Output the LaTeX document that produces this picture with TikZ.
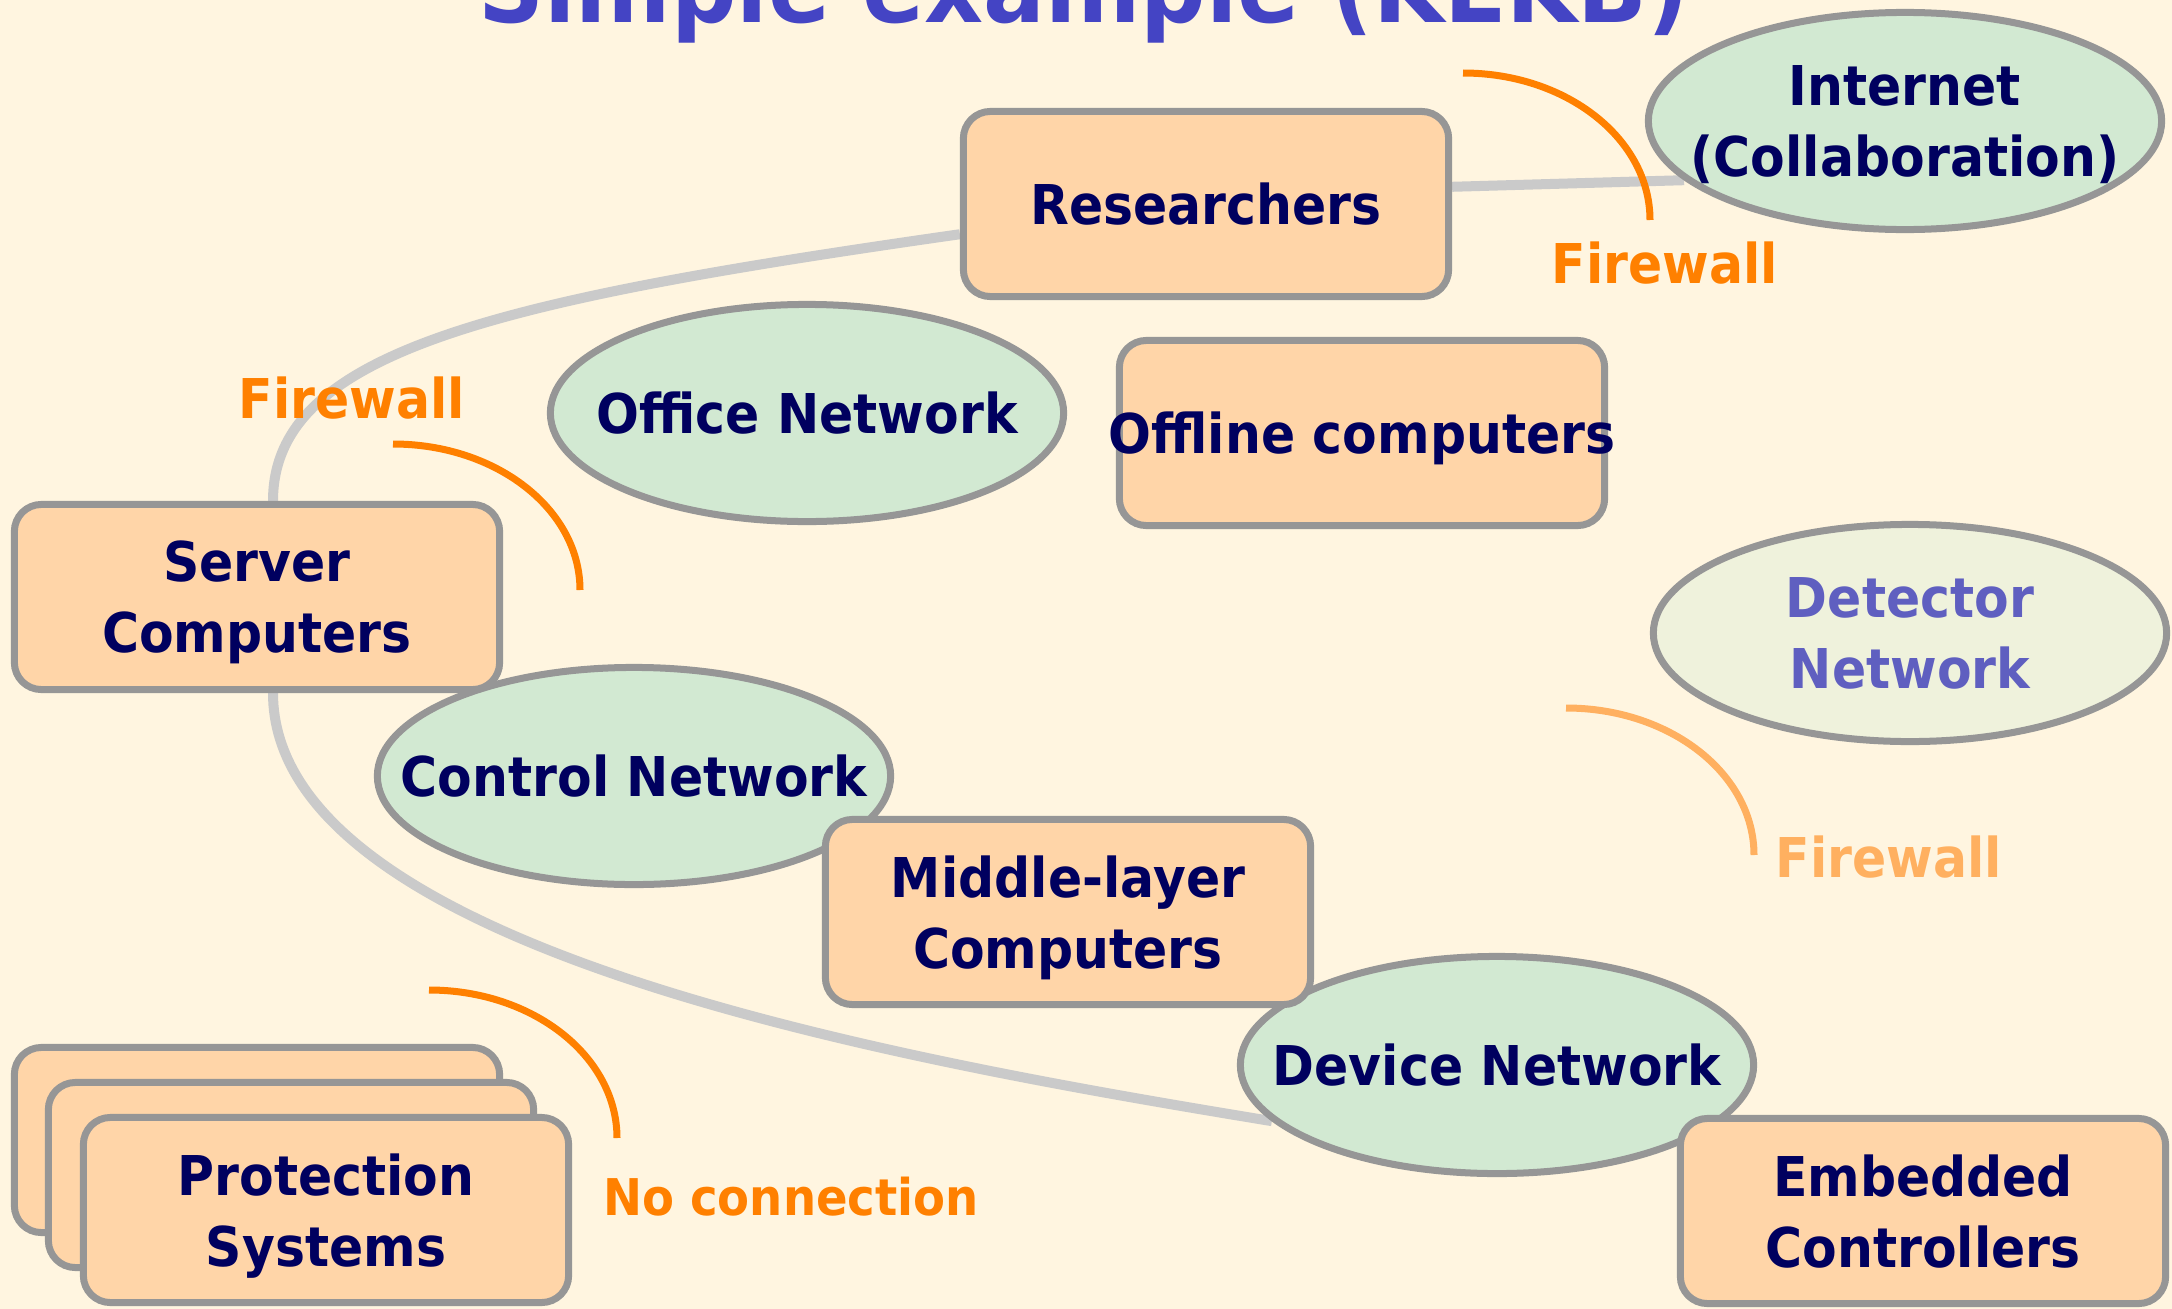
\documentclass[tikz,border=0pt]{standalone}
\usepackage{fontspec}
\setmainfont{DejaVu Sans}[FakeStretch=0.92]
\usetikzlibrary{shapes.geometric,backgrounds}

\definecolor{bgcream}{HTML}{FFF5E0}
\definecolor{boxfill}{HTML}{FFD5A8}
\definecolor{netfill}{HTML}{D2E9D2}
\definecolor{detfill}{HTML}{EFF2DC}
\definecolor{edge}{HTML}{969696}
\definecolor{navy}{HTML}{00005F}
\definecolor{fwall}{HTML}{FF8000}
\definecolor{fwlight}{HTML}{FFB060}
\definecolor{link}{HTML}{CACACA}
\definecolor{titleblue}{HTML}{4444C4}
\definecolor{detblue}{HTML}{5F5FC0}

\newcommand\nodefont{\fontsize{15.6}{20.2}\selectfont\bfseries}

\tikzset{
  box/.style={rectangle, rounded corners=0.27cm, draw=edge, line width=0.07cm,
    fill=boxfill, minimum width=4.85cm, minimum height=1.85cm,
    inner xsep=-1cm, align=center, text=navy, text depth=0pt, font=\nodefont},
  net/.style={ellipse, draw=edge, line width=0.07cm, fill=netfill,
    minimum width=5.13cm, minimum height=2.17cm, inner sep=0pt,
    inner xsep=-1cm, align=center, text=navy, text depth=0pt, font=\nodefont},
  wire/.style={draw=link, line width=0.1cm},
  fwarc/.style={draw=fwall, line width=0.07cm},
  fwtext/.style={text=fwall, font=\nodefont, anchor=base}
}

\begin{document}
\begin{tikzpicture}[x=0.01cm, y=-0.01cm]
  \useasboundingbox (0,0) rectangle (2172,1309);
  \begin{scope}[on background layer]
    \fill[bgcream] (0,0) rectangle (2172,1309);
  \end{scope}

  \node[text=titleblue, font=\fontsize{28.3}{34}\selectfont\bfseries, anchor=base] (title) at (1084,22) {Simple example (KEKB)};

  % networks
  \node[net] (inet) at (1905,121) {Internet\\(Collaboration)};
  \node[net] (office) at (807,413) {Office Network};
  \node[net] (ctrl) at (634,776) {Control Network};
  \node[net] (dev) at (1497,1065) {Device Network};
  \node[net, fill=detfill, text=detblue] (det) at (1910,633) {Detector\\Network};

  % computers
  \node[box] (res) at (1206,204) {Researchers};
  \node[box] (offline) at (1362,433) {Offline computers};
  \node[box] (srv) at (257,597) {Server\\Computers};
  \node[box] (mid) at (1068,912) {Middle-layer\\Computers};
  \node[box] (emb) at (1923,1211) {Embedded\\Controllers};
  \node[box] (prot1) at (257,1140) {};
  \node[box] (prot2) at (291,1175) {};
  \node[box] (prot) at (326,1210) {Protection\\Systems};

  % links
  \begin{scope}[on background layer]
    \draw[wire] (res.4) -- (inet.195);
    \draw[wire] (res.187) .. controls (500,300) and (273,350) .. ([xshift=0.16cm]srv.north)
      -- ([xshift=0.16cm]srv.south) .. controls (273,950) and (900,1060) .. (dev.194);
  \end{scope}

  % firewalls
  \draw[fwarc] (1463,73) arc[start angle=-90, end angle=0, x radius=187, y radius=147];
  \node[fwtext] (fw1) at (1665,283) {Firewall};
  \draw[fwarc] (393,444) arc[start angle=-90, end angle=0, x radius=187, y radius=146];
  \node[fwtext] (fw2) at (352,418) {Firewall};
  \draw[fwarc] (429,990) arc[start angle=-90, end angle=0, x radius=188, y radius=148];
  \node[fwtext, font=\fontsize{14.4}{18}\selectfont\bfseries] (nocon) at (791,1215) {No connection};
  \draw[fwarc, draw=fwlight] (1566,708) arc[start angle=-90, end angle=0, x radius=188, y radius=147];
  \node[fwtext, text=fwlight] (fw3) at (1889,877) {Firewall};
\end{tikzpicture}
\end{document}
